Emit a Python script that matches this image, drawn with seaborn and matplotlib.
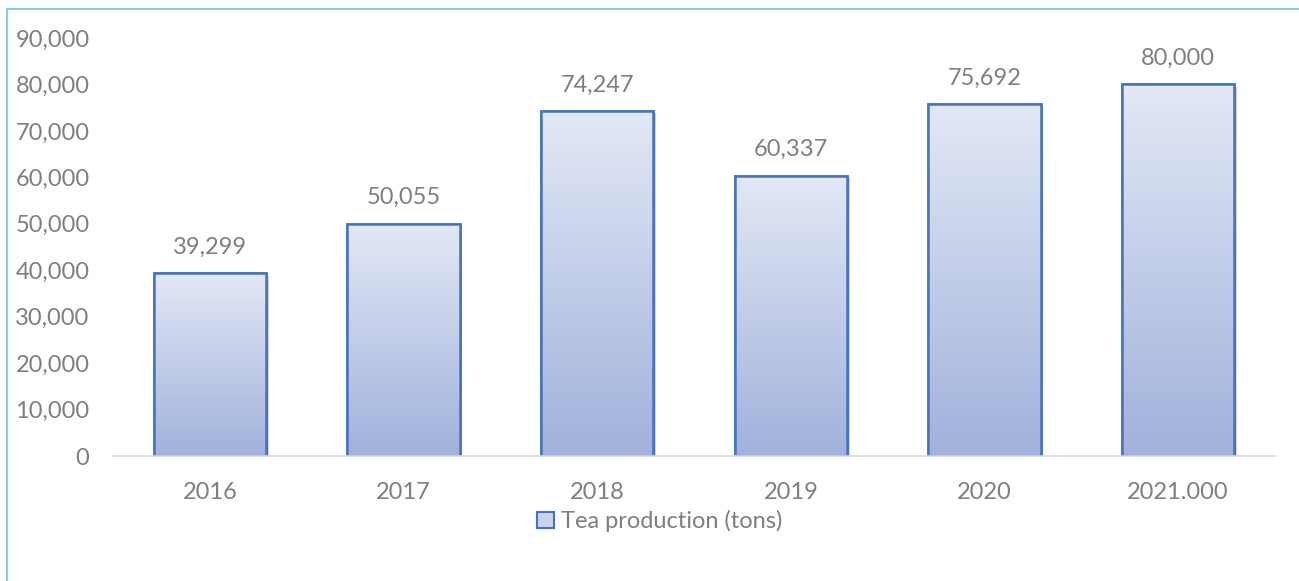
import numpy as np
import pandas as pd
import matplotlib
matplotlib.use("Agg")
import matplotlib.pyplot as plt
import matplotlib.patches as mpatches
import matplotlib.patheffects as pe
from matplotlib.colors import LinearSegmentedColormap
import seaborn as sns

# Tea production by year
years = ["2016", "2017", "2018", "2019", "2020", "2021.000"]
production = [39299, 50055, 74247, 60337, 75692, 80000]
series_name = "Tea production (tons)"

sns.set_theme(style="white")
plt.rcParams["font.family"] = ["Lato", "DejaVu Sans"]

TEXT = "#7F7F7F"
EDGE = "#4472C4"
TOP_C = "#E3E8F5"
BOT_C = "#A0B1DB"
FS = 17

df = pd.DataFrame({"year": years, "tons": production})

fig = plt.figure(figsize=(12.99, 5.81), dpi=100)
ax = fig.add_axes([0.087, 0.2151, 0.8945, 0.7195])

sns.barplot(data=df, x="year", y="tons", ax=ax, width=0.58,
            color=TOP_C, edgecolor=EDGE, linewidth=1.8, saturation=1)

ax.set_ylim(0, 90000)
ax.set_xlim(-0.5, len(years) - 0.5)
ax.set_yticks(np.arange(0, 90001, 10000))
ax.set_yticklabels([f"{v:,}" for v in range(0, 90001, 10000)])
ax.set_xlabel("")
ax.set_ylabel("")
ax.tick_params(axis="both", colors=TEXT, labelsize=FS, length=0)
ax.tick_params(axis="y", pad=17)
ax.tick_params(axis="x", pad=19)
for lbl in ax.get_xticklabels() + ax.get_yticklabels():
    lbl.set_color(TEXT)

for side in ["top", "right", "left"]:
    ax.spines[side].set_visible(False)
ax.spines["bottom"].set_color("#D9D9D9")
ax.spines["bottom"].set_linewidth(1.2)

# Vertical gradient fill inside each bar
cmap = LinearSegmentedColormap.from_list("bar_grad", [BOT_C, TOP_C])
grad = np.linspace(0, 1, 256).reshape(-1, 1)
for bar, val in zip(ax.patches, production):
    x0 = bar.get_x()
    w = bar.get_width()
    h = bar.get_height()
    bar.set_path_effects([pe.SimplePatchShadow(offset=(2, -1.5), shadow_rgbFace="#808080", alpha=0.35),
                          pe.Normal()])
    img = ax.imshow(grad, extent=(x0, x0 + w, 0, h), origin="lower", cmap=cmap,
                    aspect="auto", zorder=bar.get_zorder() + 0.1, interpolation="bicubic")
    img.set_clip_path(bar)
    outline = mpatches.Rectangle((x0, 0), w, h, fill=False, edgecolor=EDGE,
                                 linewidth=1.8, zorder=bar.get_zorder() + 0.2)
    ax.add_patch(outline)
    ax.text(x0 + w / 2, h + 3400, f"{val:,}", ha="center", va="bottom",
            fontsize=FS, color=TEXT)

ax.set_xlim(-0.5, len(years) - 0.5)
ax.set_ylim(0, 90000)

# Legend
handle = mpatches.Patch(facecolor="#C9D3EC", edgecolor=EDGE, linewidth=1.5)
leg = fig.legend([handle], [series_name], loc="center", bbox_to_anchor=(0.508, 0.103),
                 frameon=False, fontsize=FS, handlelength=0.7, handleheight=0.7,
                 handletextpad=0.3)
for t in leg.get_texts():
    t.set_color(TEXT)

# Chart area frame
frame = mpatches.Rectangle((7 / 1299, -0.1), 1.2, (581 - 9) / 581 + 0.1,
                           transform=fig.transFigure, fill=False,
                           edgecolor="#6EC1E4", linewidth=1.2, zorder=0)
fig.patches.append(frame)

fig.savefig("out.png", dpi=100)
